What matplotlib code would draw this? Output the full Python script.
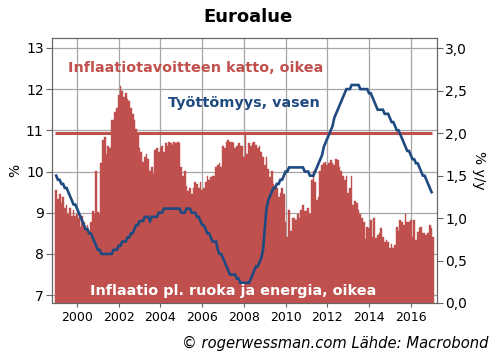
import numpy as np
import matplotlib
matplotlib.use("Agg")
import matplotlib.pyplot as plt

# ---- data (monthly, Jan 1999 ->) ----
start_year = 1999
core_inflation = [  # % y/y, right axis, Jan 1999 - Feb 2017
    1.33, 1.22, 1.28, 1.18, 1.25, 1.12, 1.15, 1.05, 1.12, 1.02, 1.10, 1.03,   # 1999
    1.05, 1.00, 0.90, 1.02, 0.95, 0.88, 0.92, 0.85, 0.95, 1.08, 1.05, 1.55,   # 2000
    1.07, 1.05, 1.65, 1.92, 1.95, 1.75, 1.85, 1.82, 2.15, 2.15, 2.25, 2.30,   # 2001
    2.45, 2.55, 2.50, 2.42, 2.47, 2.40, 2.38, 2.30, 2.22, 2.15, 2.05, 1.98,   # 2002
    1.82, 1.78, 1.66, 1.72, 1.76, 1.70, 1.55, 1.60, 1.52, 1.80, 1.82, 1.78,   # 2003
    1.82, 1.85, 1.78, 1.88, 1.85, 1.90, 1.88, 1.86, 1.90, 1.88, 1.90, 1.88,   # 2004
    1.60, 1.50, 1.55, 1.38, 1.32, 1.35, 1.28, 1.35, 1.42, 1.40, 1.35, 1.42,   # 2005
    1.33, 1.35, 1.42, 1.50, 1.45, 1.48, 1.50, 1.50, 1.60, 1.62, 1.65, 1.60,   # 2006
    1.85, 1.82, 1.90, 1.92, 1.90, 1.90, 1.88, 1.82, 1.85, 1.88, 1.85, 1.85,   # 2007
    1.72, 1.98, 1.75, 1.88, 1.85, 1.88, 1.90, 1.86, 1.82, 1.85, 1.78, 1.72,   # 2008
    1.62, 1.72, 1.58, 1.48, 1.55, 1.40, 1.38, 1.35, 1.25, 1.30, 1.35, 1.28,   # 2009
    0.95, 0.78, 1.10, 0.85, 1.00, 1.00, 0.98, 1.05, 1.00, 1.10, 1.15, 1.08,   # 2010
    1.08, 1.12, 1.05, 1.45, 1.55, 1.42, 1.21, 1.25, 1.55, 1.62, 1.65, 1.66,   # 2011
    1.62, 1.65, 1.68, 1.65, 1.62, 1.70, 1.68, 1.60, 1.55, 1.50, 1.45, 1.50,   # 2012
    1.30, 1.35, 1.50, 1.15, 1.20, 1.18, 1.10, 1.05, 1.00, 0.95, 0.75, 0.90,   # 2013
    0.88, 0.98, 0.78, 1.00, 0.76, 0.80, 0.82, 0.88, 0.78, 0.72, 0.74, 0.72,   # 2014
    0.65, 0.70, 0.65, 0.68, 0.90, 0.85, 0.98, 0.95, 0.92, 1.05, 0.95, 0.95,   # 2015
    0.98, 0.78, 0.98, 0.74, 0.84, 0.88, 0.90, 0.82, 0.82, 0.80, 0.82, 0.92,   # 2016
    0.88, 0.78,                                                               # 2017
]
unemployment = [  # %, left axis, Jan 1999 - Jan 2017
    9.9, 9.8, 9.8, 9.7, 9.7, 9.6, 9.6, 9.5, 9.4, 9.3, 9.2, 9.2,    # 1999
    9.1, 9.0, 8.9, 8.8, 8.7, 8.6, 8.6, 8.5, 8.5, 8.4, 8.3, 8.2,    # 2000
    8.1, 8.1, 8.0, 8.0, 8.0, 8.0, 8.0, 8.0, 8.0, 8.1, 8.1, 8.1,    # 2001
    8.2, 8.2, 8.3, 8.3, 8.3, 8.4, 8.4, 8.5, 8.5, 8.6, 8.7, 8.7,    # 2002
    8.8, 8.8, 8.8, 8.9, 8.9, 8.9, 8.8, 8.9, 8.9, 8.9, 8.9, 9.0,    # 2003
    9.0, 9.0, 9.1, 9.1, 9.1, 9.1, 9.1, 9.1, 9.1, 9.1, 9.1, 9.1,    # 2004
    9.0, 9.0, 9.0, 9.1, 9.1, 9.1, 9.0, 9.0, 9.0, 8.9, 8.9, 8.8,    # 2005
    8.7, 8.7, 8.6, 8.5, 8.5, 8.4, 8.3, 8.3, 8.3, 8.1, 8.0, 8.0,    # 2006
    7.9, 7.8, 7.7, 7.6, 7.5, 7.5, 7.5, 7.5, 7.4, 7.4, 7.3, 7.3,    # 2007
    7.3, 7.3, 7.3, 7.3, 7.4, 7.5, 7.6, 7.7, 7.7, 7.8, 7.9, 8.1,    # 2008
    8.6, 9.1, 9.3, 9.4, 9.5, 9.6, 9.6, 9.7, 9.7, 9.8, 9.8, 9.9,    # 2009
    10.0, 10.0, 10.1, 10.1, 10.1, 10.1, 10.1, 10.1, 10.1, 10.1, 10.1, 10.0,  # 2010
    10.0, 10.0, 9.9, 9.9, 9.9, 10.0, 10.1, 10.2, 10.3, 10.4, 10.6, 10.7,     # 2011
    10.8, 10.9, 11.0, 11.1, 11.3, 11.4, 11.5, 11.6, 11.7, 11.8, 11.9, 12.0,  # 2012
    12.0, 12.0, 12.1, 12.1, 12.1, 12.1, 12.1, 12.0, 12.0, 12.0, 12.0, 12.0,  # 2013
    11.9, 11.9, 11.8, 11.7, 11.6, 11.5, 11.5, 11.5, 11.5, 11.4, 11.4, 11.4,  # 2014
    11.3, 11.2, 11.2, 11.1, 11.0, 11.0, 10.9, 10.8, 10.7, 10.6, 10.5, 10.5,  # 2015
    10.4, 10.3, 10.3, 10.2, 10.2, 10.1, 10.0, 9.9, 9.9, 9.8, 9.7, 9.6,       # 2016
    9.5,                                                                      # 2017
]
inflation_target = 2.0
year_ticks = [2000, 2002, 2004, 2006, 2008, 2010, 2012, 2014, 2016]
left_ticks = [7, 8, 9, 10, 11, 12, 13]
right_ticks = [0.0, 0.5, 1.0, 1.5, 2.0, 2.5, 3.0]
right_ticklabels = ["0,0", "0,5", "1,0", "1,5", "2,0", "2,5", "3,0"]

title = "Euroalue"
label_target = "Inflaatiotavoitteen katto, oikea"
label_unemp = "Työttömyys, vasen"
label_core = "Inflaatio pl. ruoka ja energia, oikea"
footer = "© rogerwessman.com Lähde: Macrobond"

# ---- style ----
RED = "#C0504D"
BLUE = "#1F4A80"
GRID = "#A6A6A6"
SPINE = "#666666"

plt.rcParams["font.family"] = ["DejaVu Sans"]

core_x = start_year + np.arange(len(core_inflation)) / 12.0
unemp_x = start_year + np.arange(len(unemployment)) / 12.0

fig = plt.figure(figsize=(4.96, 3.61), dpi=100)
pos = [52 / 496, 1 - 303 / 361, (437 - 52) / 496, (303 - 38) / 361]

ax_l = fig.add_axes(pos)
ax_l.set_xlim(1998.8, 2017.26)
ax_l.set_ylim(6.81, 13.24)
ax_l.set_yticks(left_ticks)
ax_l.set_xticks(year_ticks)
ax_l.grid(True, color=GRID, linewidth=0.9)
ax_l.tick_params(axis="y", labelsize=10, length=4, color=SPINE, pad=2)
ax_l.tick_params(axis="x", labelsize=9, length=3, color=SPINE, pad=3)
for s in ax_l.spines.values():
    s.set_color(SPINE)
ax_l.set_ylabel("%", fontsize=10, labelpad=3)

ax_r = ax_l.twinx()
ax_r.set_ylim(0, 3.12)
ax_r.bar(core_x, core_inflation, width=1 / 12.0, color=RED,
         edgecolor=RED, linewidth=0.3, zorder=2)
ax_r.hlines(inflation_target, core_x[0] - 1 / 24, core_x[-1] - 1 / 24,
            color=RED, linewidth=2.2, zorder=3)
ax_r.set_yticks(right_ticks)
ax_r.set_yticklabels(right_ticklabels)
ax_r.tick_params(axis="y", labelsize=10, length=4, color=SPINE, pad=2)
for s in ax_r.spines.values():
    s.set_color(SPINE)
ax_r.set_ylabel("% y/y", fontsize=10, rotation=270, va="bottom", labelpad=3)

ax_t = fig.add_axes(pos, sharex=ax_l, sharey=ax_l)
ax_t.patch.set_visible(False)
ax_t.axis("off")
ax_t.plot(unemp_x, unemployment, color=BLUE, linewidth=1.9,
          solid_joinstyle="miter")

ax_t.text(1999.57, 12.51, label_target, color=RED, fontsize=10.4,
          fontweight="bold", va="center", ha="left")
ax_t.text(2004.36, 11.66, label_unemp, color=BLUE, fontsize=10.4,
          fontweight="bold", va="center", ha="left")
ax_t.text(2000.62, 7.10, label_core, color="white", fontsize=10.4,
          fontweight="bold", va="center", ha="left")

fig.text(0.5, 1 - 17 / 361, title, fontsize=13, fontweight="bold",
         ha="center", va="center")
fig.text(488 / 496, 1 - 343 / 361, footer, fontsize=10.6, style="italic",
         ha="right", va="center")

fig.savefig("out.png", dpi=100)
